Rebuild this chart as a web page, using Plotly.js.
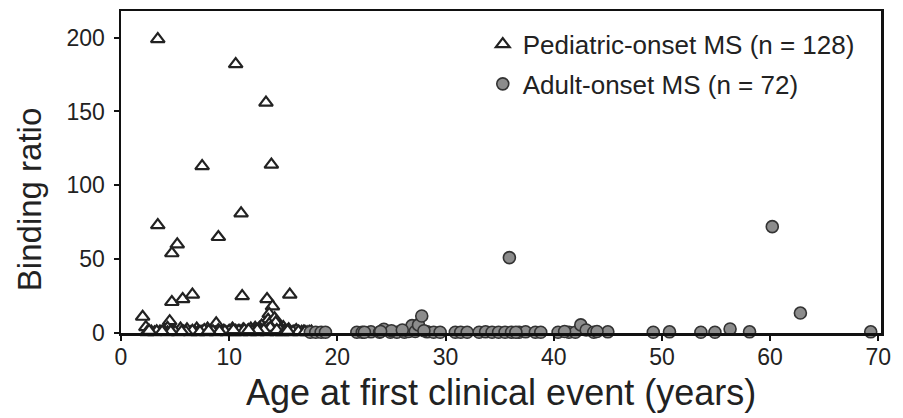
<!DOCTYPE html>
<html>
<head>
<meta charset="utf-8">
<script src="https://cdn.plot.ly/plotly-3.0.1.min.js"></script>
<style>html,body{margin:0;padding:0;background:#fff;}#chart{width:903px;height:418px;}</style>
</head>
<body>
<div id="chart"></div>
<script>
// Pediatric-onset MS: age at first clinical event (years)
const pedAge = [
  3.4, 10.6, 13.4, 7.5, 13.9, 3.4, 11.1, 9.0, 5.2, 4.7,
  4.7, 5.7, 6.6, 11.2, 13.5, 15.6, 14.0, 13.7, 13.6, 14.2,
  8.8, 4.5, 2.0, 14.5, 13.0, 4.3, 2.3, 15.0, 12.4, 7.0,
  2.4, 3.1, 4.3, 5.3, 6.4, 7.1, 7.9, 8.8, 9.8, 10.5,
  11.1, 11.9, 12.6, 13.5, 14.4, 14.9, 15.7, 16.5, 17.2, 2.8,
  3.6, 4.8, 5.8, 6.8, 7.5, 8.3, 9.3, 10.1, 10.8, 11.5,
  12.2, 13.0, 13.9, 14.6, 15.3, 16.0, 16.9, 17.6, 5.5, 6.1,
  8.0, 9.0, 10.3, 11.3, 12.0, 12.8, 13.3, 14.1, 14.8, 15.5,
  16.2, 10.6, 11.7, 12.5, 13.7, 14.3, 15.1, 9.5, 7.7, 6.6,
  4.0, 3.3, 2.6, 5.0, 8.5, 10.0, 11.0, 12.9, 13.1, 14.0,
  15.9, 16.7, 17.4, 6.0, 7.3, 9.6, 10.9, 12.3, 13.6, 14.7,
  11.4, 12.1, 12.7, 13.8, 14.4, 15.2, 10.4, 9.1, 8.1, 5.6,
  4.6, 3.8, 16.4, 17.0, 15.4, 13.2, 12.6, 11.8
];
// Pediatric-onset MS: binding ratio
const pedRatio = [
  199, 182, 156, 113, 114, 73, 81, 65, 60, 54,
  21, 23, 26, 25, 23, 26, 18, 13, 9, 10,
  6.5, 8, 11, 5, 5, 3.5, 4, 4, 3.5, 3,
  0.5, 0.5, 0.5, 0.5, 0.5, 0.5, 0.5, 0.5, 0.5, 0.5,
  0.5, 0.5, 0.5, 0.5, 0.5, 0.5, 0.5, 0.5, 0.5, 1,
  1, 1, 1, 1, 1, 1, 1, 1, 1, 1,
  1, 1, 1, 1, 1, 1, 1, 1, 3, 2.5,
  3, 2, 3, 2.5, 3, 3.5, 3, 4, 3, 2.5,
  2, 1.5, 1.5, 2, 6, 7, 1.5, 1.5, 2, 1.5,
  0.8, 1.2, 1.5, 0.8, 1.2, 1.5, 1.2, 2, 1.5, 2.5,
  0.8, 0.8, 0.8, 0.8, 0.8, 1.2, 1.5, 1.5, 2.5, 2,
  2, 1.5, 2.5, 3.5, 2, 1.5, 2, 1, 1.5, 1,
  1, 1, 1, 0.8, 1.5, 2, 2, 2
];
// Adult-onset MS: age at first clinical event (years)
const adultAge = [
  17.5, 18.0, 18.5, 18.9, 21.8, 22.3, 23.1, 23.9, 24.3, 24.9,
  25.5, 26.2, 26.6, 26.9, 27.2, 27.5, 27.8, 28.3, 28.9, 29.5,
  30.9, 31.4, 33.1, 33.7, 34.3, 34.9, 35.5, 35.9, 36.1, 36.8,
  37.4, 38.3, 38.8, 40.4, 41.4, 42.0, 42.5, 43.0, 43.7, 45.0,
  49.2, 50.7, 53.6, 54.9, 56.3, 58.1, 60.2, 62.8, 69.3, 25.0,
  26.0, 28.0, 32.0, 36.5, 24.0, 22.5, 44.0, 41.0
];
// Adult-onset MS: binding ratio
const adultRatio = [
  0.5, 0.5, 0.5, 0.5, 0.5, 0.5, 0.8, 0.5, 2.5, 0.5,
  0.5, 0.5, 1.0, 5, 1.0, 5.5, 11.5, 0.8, 0.5, 0.5,
  0.5, 0.5, 0.5, 0.8, 0.5, 0.5, 0.5, 51, 0.5, 0.5,
  0.8, 0.5, 0.5, 0.5, 0.5, 0.5, 5.5, 2.0, 0.5, 0.8,
  0.5, 0.8, 0.5, 0.5, 2.7, 0.8, 72, 13.5, 0.8, 1.5,
  2.0, 1.5, 0.5, 0.5, 1.0, 0.5, 1.0, 1.0
];
const legendNames = ["Pediatric-onset MS (n = 128)", "Adult-onset MS (n = 72)"];
const xTitle = "Age at first clinical event (years)";
const yTitle = "Binding ratio";

const FONT = "Liberation Sans, Arial, Helvetica, sans-serif";

const traces = [
  {
    x: pedAge, y: pedRatio, type: "scatter", mode: "markers",
    name: legendNames[0], legendgroup: "a", cliponaxis: false,
    marker: {symbol: "triangle-up", size: 12, color: "#ffffff", line: {color: "#222222", width: 2.2}}
  },
  {
    x: adultAge, y: adultRatio, type: "scatter", mode: "markers",
    name: legendNames[1], legendgroup: "b", cliponaxis: false,
    marker: {symbol: "circle", size: 12, color: "#8c8c8c", line: {color: "#333333", width: 1.6}}
  }
];

const layout = {
  width: 903, height: 418,
  margin: {l: 121, r: 22, t: 11, b: 85},
  paper_bgcolor: "#ffffff", plot_bgcolor: "#ffffff",
  font: {family: FONT, color: "#222222"},
  showlegend: true,
  legend: {
    x: 0.476, y: 0.97, xanchor: "left", yanchor: "top",
    bgcolor: "rgba(0,0,0,0)", font: {family: FONT, size: 26, color: "#222222"},
    tracegroupgap: 3
  },
  xaxis: {
    range: [0, 70.25], tickvals: [0,10,20,30,40,50,60,70],
    showgrid: false, zeroline: false, showline: true, linecolor: "#111111", linewidth: 2.5,
    mirror: true, ticks: "outside", ticklen: 5, tickwidth: 2, tickcolor: "#111111",
    tickfont: {family: FONT, size: 23, color: "#222222"}, ticklabelstandoff: -3
  },
  yaxis: {
    range: [0, 218], tickvals: [0,50,100,150,200],
    showgrid: false, zeroline: false, showline: true, linecolor: "#111111", linewidth: 2.5,
    mirror: true, ticks: "outside", ticklen: 5, tickwidth: 2, tickcolor: "#111111",
    tickfont: {family: FONT, size: 23, color: "#222222"}, ticklabelstandoff: 4
  },
  annotations: [
    {
      text: yTitle, xref: "paper", yref: "paper", x: -0.12, y: 0.415,
      xanchor: "center", yanchor: "middle", textangle: -90, showarrow: false,
      font: {family: FONT, size: 33, color: "#222222"}
    },
    {
      text: xTitle, xref: "paper", yref: "paper", x: 0.5, y: -0.184,
      xanchor: "center", yanchor: "middle", showarrow: false, borderpad: 0,
      font: {family: FONT, size: 36, color: "#222222"}
    }
  ]
};

Plotly.newPlot("chart", traces, layout, {displayModeBar: false, staticPlot: true});
</script>
</body>
</html>
